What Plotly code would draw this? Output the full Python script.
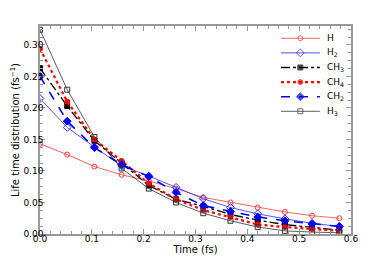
import plotly.graph_objects as go

time_fs = [0.0, 0.0525, 0.105, 0.1575, 0.21, 0.2625, 0.315, 0.3675, 0.42, 0.4725, 0.525, 0.5775]
H = [0.143, 0.126, 0.107, 0.094, 0.084, 0.072, 0.058, 0.050, 0.042, 0.035, 0.029, 0.025]
H2 = [0.215, 0.169, 0.138, 0.108, 0.092, 0.074, 0.056, 0.042, 0.032, 0.024, 0.017, 0.012]
CH3 = [0.263, 0.203, 0.148, 0.112, 0.077, 0.055, 0.044, 0.031, 0.022, 0.015, 0.010, 0.006]
CH4 = [0.294, 0.210, 0.150, 0.116, 0.080, 0.055, 0.038, 0.027, 0.015, 0.011, 0.008, 0.005]
CH2 = [0.250, 0.179, 0.137, 0.110, 0.091, 0.066, 0.045, 0.036, 0.027, 0.021, 0.016, 0.012]
H3 = [0.324, 0.229, 0.154, 0.104, 0.072, 0.050, 0.033, 0.021, 0.011, 0.005, 0.003, 0.002]
names = ["H", "H<sub>2</sub>", "CH<sub>3</sub>", "CH<sub>4</sub>", "CH<sub>2</sub>", "H<sub>3</sub>"]

styles = [
    ("#ff3b3b", "solid", 0.8, "circle-open", 5),
    ("#2a2aff", "solid", 0.8, "diamond-open", 6),
    ("black", "dashdot", 1.3, "square", 5),
    ("#ff0000", "dot", 2.2, "circle", 5),
    ("#0000ff", "dash", 1.6, "diamond", 6),
    ("#333333", "solid", 0.8, "square-open", 5),
]
data = [H, H2, CH3, CH4, CH2, H3]

fig = go.Figure()
for name, ys, (col, dash, w, sym, sz) in zip(names, data, styles):
    fig.add_trace(go.Scatter(
        x=time_fs, y=ys, name=name, mode="lines+markers", showlegend=False,
        line=dict(color=col, dash=dash, width=w),
        marker=dict(symbol=sym, size=sz, color=col, line=dict(color=col, width=1)),
    ))

# custom compact legend on an overlay axis (0..1 in plot-area fraction)
leg_x0, leg_x1, leg_xm, leg_tx = 0.775, 0.90, 0.837, 0.915
leg_y0, leg_dy = 0.941, 0.0702
for i, (name, (col, dash, w, sym, sz)) in enumerate(zip(names, styles)):
    yy = leg_y0 - i * leg_dy
    fig.add_trace(go.Scatter(
        x=[leg_x0, leg_xm, leg_x1], y=[yy, yy, yy], mode="lines+markers",
        xaxis="x2", yaxis="y2", showlegend=False, hoverinfo="skip",
        line=dict(color=col, dash=dash, width=w),
        marker=dict(symbol=sym, size=[0, sz, 0], color=col, line=dict(color=col, width=1)),
    ))
    fig.add_annotation(x=leg_tx, y=yy, xref="x2", yref="y2", text=name, showarrow=False,
                       xanchor="left", yanchor="middle", font=dict(size=9, color="black"))

axis_common = dict(
    showline=True, linecolor="#999", linewidth=1.5, mirror="allticks",
    ticks="inside", ticklen=5, tickcolor="#999", showgrid=False, zeroline=False,
    tickfont=dict(size=9, color="black"), automargin=False,
)
fig.update_xaxes(range=[0, 0.6], dtick=0.1, tickformat=".1f", ticklabelstandoff=-5,
                 minor=dict(ticks="inside", ticklen=3, dtick=0.02, tickcolor="#999"),
                 title=dict(text="Time (fs)", font=dict(size=10), standoff=0), **axis_common)
fig.update_yaxes(range=[0, 0.33], dtick=0.05, tickformat=".2f", ticklabelstandoff=-7,
                 minor=dict(ticks="inside", ticklen=3, dtick=0.0125, tickcolor="#999"),
                 title=dict(text="Life time distribution (fs<sup>−1</sup>)", font=dict(size=10), standoff=2),
                 **axis_common)

fig.update_layout(
    xaxis2=dict(overlaying="x", range=[0, 1], visible=False, fixedrange=True),
    yaxis2=dict(overlaying="y", range=[0, 1], visible=False, fixedrange=True),
    width=382, height=252,
    margin=dict(l=31.5, r=39, t=18, b=26),
    paper_bgcolor="white", plot_bgcolor="white",
    font=dict(family="DejaVu Sans", size=9, color="black"),
    showlegend=False,
)
fig.write_html("out.html")
